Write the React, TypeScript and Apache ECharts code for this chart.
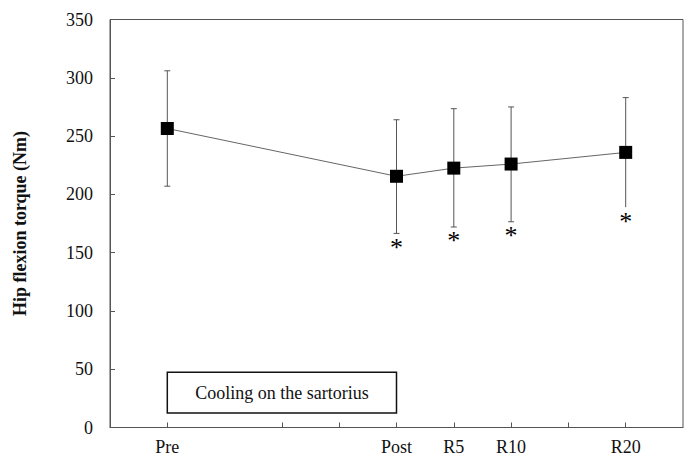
import React, { useEffect, useRef } from "react";
import * as echarts from "echarts";

const categories = ["Pre", "Post", "R5", "R10", "R20"];
const timePoints = [-20, 0, 5, 10, 20];
const xTickValues = [-20, -10, -5, 0, 5, 10, 15, 20];
const means = [256.5, 215.5, 222.5, 226, 236];
const upperSD = [306, 264, 273.5, 275, 283];
const lowerSD = [207, 166.5, 172, 176.5, 189];
const significant = [false, true, true, true, true];
const yTicks = [0, 50, 100, 150, 200, 250, 300, 350];
const legendText = "Cooling on the sartorius";
const legendRange = { x0: -20, x1: 0, y0: 12.5, y1: 47.5 };

const FONT = "Liberation Serif";

export default function App() {
  const ref = useRef<HTMLDivElement>(null);
  useEffect(() => {
    if (!ref.current) return;
    const chart = echarts.init(ref.current, undefined, { renderer: "svg" });
    const errData = timePoints.map((t, i) => [t, lowerSD[i], upperSD[i], significant[i] ? 1 : 0, i === 4 ? 0 : 1]);
    chart.setOption({
      animation: false,
      backgroundColor: "#fff",
      textStyle: { fontFamily: FONT },
      grid: {
        left: 110,
        right: 3,
        top: 19.5,
        bottom: 35.5,
        show: true,
        borderColor: "#555",
        borderWidth: 1,
        backgroundColor: "transparent",
      },
      xAxis: {
        type: "value",
        min: -25,
        max: 25,
        interval: 5,
        splitLine: { show: false },
        axisLine: { onZero: false, lineStyle: { color: "#555", width: 1 } },
        axisTick: { show: true, inside: true, length: 5, customValues: xTickValues, lineStyle: { color: "#555" } },
        axisLabel: {
          customValues: timePoints,
          margin: 10,
          fontFamily: FONT,
          fontSize: 18,
          color: "#111",
          formatter: (v: number) => {
            const idx = timePoints.indexOf(v);
            return idx >= 0 ? categories[idx] : "";
          },
        },
      },
      yAxis: {
        type: "value",
        min: 0,
        max: 350,
        interval: 50,
        splitLine: { show: false },
        axisLine: { show: true, onZero: false, lineStyle: { color: "#555", width: 1 } },
        axisTick: { show: true, inside: true, length: 5, lineStyle: { color: "#555" } },
        axisLabel: {
          margin: 17,
          fontFamily: FONT,
          fontSize: 18,
          color: "#111",
          formatter: (v: number) => (yTicks.includes(v) ? String(v) : ""),
        },
        name: "Hip flexion torque (Nm)",
        nameLocation: "middle",
        nameGap: 81,
        nameTextStyle: { fontFamily: FONT, fontSize: 18, fontWeight: "bold", color: "#111" },
      },
      series: [
        {
          type: "custom",
          z: 2,
          itemStyle: { color: "#111" },
          data: errData,
          renderItem: (params: any, api: any) => {
            const x = api.value(0);
            const lo = api.coord([x, api.value(1)]);
            const hi = api.coord([x, api.value(2)]);
            const sig = api.value(3);
            const lowCap = api.value(4);
            const cw = 3;
            const style = { stroke: "#555", lineWidth: 1, fill: "none" };
            const children: any[] = [
              { type: "line", shape: { x1: hi[0], y1: hi[1], x2: lo[0], y2: lo[1] }, style },
              { type: "line", shape: { x1: hi[0] - cw, y1: hi[1], x2: hi[0] + cw, y2: hi[1] }, style },
            ];
            if (lowCap) {
              children.push({ type: "line", shape: { x1: lo[0] - cw, y1: lo[1], x2: lo[0] + cw, y2: lo[1] }, style });
            }
            if (sig) {
              children.push({
                type: "text",
                style: {
                  text: "*",
                  x: lo[0],
                  y: lo[1] + 1,
                  align: "center",
                  verticalAlign: "top",
                  fontFamily: FONT,
                  fontSize: 26,
                  fill: "#000",
                },
              });
            }
            return { type: "group", children };
          },
        },
        {
          type: "line",
          z: 3,
          data: timePoints.map((t, i) => [t, means[i]]),
          symbol: "rect",
          symbolSize: 13,
          lineStyle: { color: "#666", width: 1 },
          itemStyle: { color: "#000" },
          markArea: {
            silent: true,
            itemStyle: { color: "#fff", borderColor: "#111", borderWidth: 1.5 },
            label: {
              show: true,
              position: "inside",
              fontFamily: FONT,
              fontSize: 18,
              color: "#111",
            },
            data: [
              [
                { name: legendText, coord: [legendRange.x0, legendRange.y1] },
                { coord: [legendRange.x1, legendRange.y0] },
              ],
            ],
          },
        },
      ],
    });
    return () => chart.dispose();
  }, []);
  return <div ref={ref} style={{ width: 686, height: 463, position: "absolute", left: 0, top: 0 }} />;
}
